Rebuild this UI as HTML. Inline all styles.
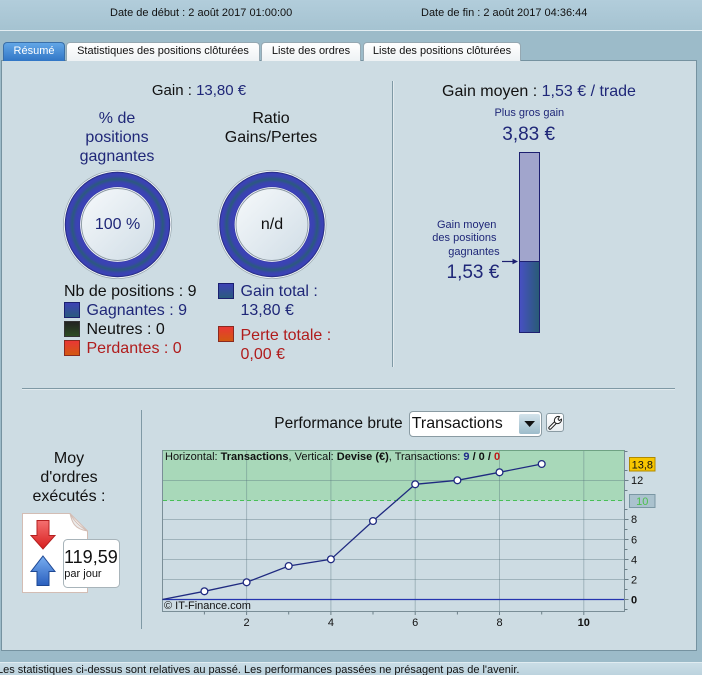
<!DOCTYPE html>
<html><head><meta charset="utf-8">
<style>
*{margin:0;padding:0;box-sizing:border-box}
html,body{width:702px;height:675px;overflow:hidden}
body{position:relative;background:#9cbbc9;font-family:"Liberation Sans",Arial,sans-serif;color:#111}
.a{position:absolute;white-space:nowrap}
.n{color:#1f2778}
.r{color:#b01c1c}
.tab{position:absolute;top:42px;height:19px;border:1px solid #95a8b2;border-bottom:none;border-radius:4px 4px 0 0;background:linear-gradient(#ffffff,#eef2f4);font-size:11px;line-height:17px;text-align:center;color:#111}
</style></head><body>

<!-- header -->
<div class="a" style="left:0;top:0;width:702px;height:30px;background:linear-gradient(#b2cddb,#a5c3d1)"></div>
<div class="a" style="left:0;top:30px;width:702px;height:1px;background:#e2edf2"></div>
<div class="a" style="left:110px;top:6px;font-size:11px;line-height:14px">Date de début : 2 août 2017 01:00:00</div>
<div class="a" style="left:421px;top:6px;font-size:11px;line-height:14px">Date de fin : 2 août 2017 04:36:44</div>

<!-- panel -->
<div class="a" style="left:1px;top:60px;width:696px;height:591px;background:#cddce3;border:1px solid #7592a0"></div>

<!-- tabs -->
<div class="tab" style="left:3px;width:62px;background:linear-gradient(#62a6e6,#3176c6);border-color:#3a6fa8;color:#fff">Résumé</div>
<div class="tab" style="left:66px;width:194px">Statistiques des positions clôturées</div>
<div class="tab" style="left:261px;width:100px">Liste des ordres</div>
<div class="tab" style="left:363px;width:158px">Liste des positions clôturées</div>

<!-- footer -->
<div class="a" style="left:0;top:662px;width:702px;height:1px;background:#e0ecf1"></div>
<div class="a" style="left:0;top:663px;width:702px;height:12px;background:linear-gradient(#cadde6,#bcd3de)"></div>
<div class="a" style="left:-3px;top:663px;font-size:11px;line-height:14px">Les statistiques ci-dessus sont relatives au passé. Les performances passées ne présagent pas de l'avenir.</div>

<svg class="a" style="left:0;top:0" width="702" height="675" viewBox="0 0 702 675">
<defs>
<radialGradient id="ring" cx="0.5" cy="0.5" r="0.5">
<stop offset="0.69" stop-color="#2a2e8a"/>
<stop offset="0.73" stop-color="#3c42b8"/>
<stop offset="0.80" stop-color="#3944ae"/>
<stop offset="0.86" stop-color="#2b5a7e"/>
<stop offset="0.92" stop-color="#3944ae"/>
<stop offset="0.97" stop-color="#3c42b8"/>
<stop offset="1" stop-color="#1e2470"/>
</radialGradient>
<linearGradient id="inner" x1="0" y1="0" x2="1" y2="1">
<stop offset="0" stop-color="#f6f9fb"/><stop offset="1" stop-color="#d0dde6"/>
</linearGradient>
<linearGradient id="bsq" x1="0" y1="0" x2="0" y2="1">
<stop offset="0" stop-color="#3d40b6"/><stop offset="1" stop-color="#2a5c7c"/>
</linearGradient>
<linearGradient id="ksq" x1="0" y1="0" x2="0" y2="1">
<stop offset="0" stop-color="#222"/><stop offset="1" stop-color="#2d4d22"/>
</linearGradient>
<linearGradient id="rsq" x1="0" y1="0" x2="0" y2="1">
<stop offset="0" stop-color="#ea3636"/><stop offset="1" stop-color="#d25a10"/>
</linearGradient>
<linearGradient id="barg" x1="0" y1="0" x2="1" y2="0">
<stop offset="0" stop-color="#4850c4"/><stop offset="1" stop-color="#285c74"/>
</linearGradient>
<linearGradient id="redA" x1="0" y1="0" x2="0" y2="1">
<stop offset="0" stop-color="#f47070"/><stop offset="1" stop-color="#d81e1e"/>
</linearGradient>
<linearGradient id="bluA" x1="0" y1="0" x2="0" y2="1">
<stop offset="0" stop-color="#78aef0"/><stop offset="1" stop-color="#2a5fbe"/>
</linearGradient>
</defs>

<!-- separators -->
<line x1="392.5" y1="81" x2="392.5" y2="367" stroke="#7f99a5"/>
<line x1="393.5" y1="81" x2="393.5" y2="367" stroke="#e2ebef"/>
<line x1="22" y1="388.5" x2="675" y2="388.5" stroke="#7f99a5"/>
<line x1="22" y1="389.5" x2="675" y2="389.5" stroke="#e2ebef"/>
<line x1="141.5" y1="410" x2="141.5" y2="629" stroke="#7f99a5"/>

<!-- donut 1 -->
<g transform="translate(117.5,224.5)">
<circle r="54" fill="none" stroke="#97a6ae" stroke-width="0.8"/>
<circle r="53.2" fill="none" stroke="#f2f6f8" stroke-width="1"/>
<circle r="52.7" fill="url(#ring)"/>
<circle r="37.4" fill="#f4f7f9"/>
<circle r="36" fill="url(#inner)" stroke="#8896a0" stroke-width="0.9"/>
</g>
<!-- donut 2 -->
<g transform="translate(272,224.5)">
<circle r="54" fill="none" stroke="#97a6ae" stroke-width="0.8"/>
<circle r="53.2" fill="none" stroke="#f2f6f8" stroke-width="1"/>
<circle r="52.7" fill="url(#ring)"/>
<circle r="37.4" fill="#f4f7f9"/>
<circle r="36" fill="url(#inner)" stroke="#8896a0" stroke-width="0.9"/>
</g>

<!-- legend squares -->
<rect x="64.5" y="302.5" width="15" height="15" fill="url(#bsq)" stroke="#1b2070"/>
<rect x="64.5" y="321.5" width="15" height="15" fill="url(#ksq)" stroke="#333"/>
<rect x="64.5" y="340.5" width="15" height="15" fill="url(#rsq)" stroke="#8a2a20"/>
<rect x="218.5" y="283.5" width="15" height="15" fill="url(#bsq)" stroke="#1b2070"/>
<rect x="218.5" y="326.5" width="15" height="15" fill="url(#rsq)" stroke="#8a2a20"/>

<!-- bar -->
<rect x="519.5" y="152.5" width="20" height="109" fill="#a1a5cc" stroke="#1d2070"/>
<rect x="519.5" y="261.5" width="20" height="71" fill="url(#barg)" stroke="#1d2070"/>
<line x1="502" y1="261.5" x2="514" y2="261.5" stroke="#1d2070" stroke-width="1.2"/>
<polygon points="518,261.5 512.5,258.8 512.5,264.2" fill="#1d2070"/>

<!-- document icon -->
<path d="M22.5 513.5 H70 L87.5 531 V592.5 H22.5 Z" fill="#fff" stroke="#d3bdb4"/>
<path d="M70 513.5 C72 522 74 529 87.5 531 C79 526 74 521 70 513.5 Z" fill="#ececec" stroke="#d3bdb4"/>
<polygon points="37,520.5 49,520.5 49,535.5 55,535.5 43,549 31,535.5 37,535.5" fill="url(#redA)" stroke="#b42020"/>
<polygon points="43,556 55,571.5 49,571.5 49,585.5 37,585.5 37,571.5 31,571.5" fill="url(#bluA)" stroke="#1e4894"/>
<rect x="63.5" y="539.5" width="56" height="48" rx="4" fill="#fff" stroke="#a8b4ba"/>

<!-- chart -->
<rect x="162.5" y="450.5" width="462" height="161" fill="#cddce3"/>
<rect x="162.5" y="450.5" width="462" height="50" fill="#a8d8b9"/>
<g stroke="#55707c" stroke-opacity="0.38" stroke-width="1">
<line x1="246.6" y1="451" x2="246.6" y2="611"/>
<line x1="330.9" y1="451" x2="330.9" y2="611"/>
<line x1="415.2" y1="451" x2="415.2" y2="611"/>
<line x1="499.5" y1="451" x2="499.5" y2="611"/>
<line x1="583.8" y1="451" x2="583.8" y2="611"/>
<line x1="163" y1="579.5" x2="624" y2="579.5"/>
<line x1="163" y1="559.5" x2="624" y2="559.5"/>
<line x1="163" y1="539.5" x2="624" y2="539.5"/>
<line x1="163" y1="519.5" x2="624" y2="519.5"/>
<line x1="163" y1="480.5" x2="624" y2="480.5"/>
</g>
<line x1="163" y1="500.5" x2="624" y2="500.5" stroke="#48bf57" stroke-dasharray="4,3"/>
<line x1="162.5" y1="599.5" x2="624.5" y2="599.5" stroke="#2434b0" stroke-width="1.3"/>
<line x1="162.5" y1="450.5" x2="624.5" y2="450.5" stroke="#6fa283"/>
<line x1="162.5" y1="450" x2="162.5" y2="611.5" stroke="#7a8e97"/>
<line x1="162" y1="611.5" x2="625" y2="611.5" stroke="#7a8e97"/>
<line x1="624.5" y1="450" x2="624.5" y2="611.5" stroke="#7a8e97"/>
<!-- right ticks -->
<g stroke="#6b7f88">
<line x1="624.5" y1="609.5" x2="627.5" y2="609.5"/>
<line x1="624.5" y1="599.5" x2="628.5" y2="599.5"/>
<line x1="624.5" y1="589.5" x2="627.5" y2="589.5"/>
<line x1="624.5" y1="579.5" x2="628.5" y2="579.5"/>
<line x1="624.5" y1="569.5" x2="627.5" y2="569.5"/>
<line x1="624.5" y1="559.5" x2="628.5" y2="559.5"/>
<line x1="624.5" y1="549.5" x2="627.5" y2="549.5"/>
<line x1="624.5" y1="539.5" x2="628.5" y2="539.5"/>
<line x1="624.5" y1="529.5" x2="627.5" y2="529.5"/>
<line x1="624.5" y1="519.5" x2="628.5" y2="519.5"/>
<line x1="624.5" y1="509.5" x2="627.5" y2="509.5"/>
<line x1="624.5" y1="490.5" x2="627.5" y2="490.5"/>
<line x1="624.5" y1="480.5" x2="628.5" y2="480.5"/>
<line x1="624.5" y1="470.5" x2="627.5" y2="470.5"/>
<line x1="624.5" y1="451.5" x2="627.5" y2="451.5"/>
</g>
<!-- bottom ticks -->
<g stroke="#6b7f88">
<line x1="204.4" y1="611.5" x2="204.4" y2="614.5"/>
<line x1="246.6" y1="611.5" x2="246.6" y2="615"/>
<line x1="288.7" y1="611.5" x2="288.7" y2="614.5"/>
<line x1="330.9" y1="611.5" x2="330.9" y2="615"/>
<line x1="373" y1="611.5" x2="373" y2="614.5"/>
<line x1="415.2" y1="611.5" x2="415.2" y2="615"/>
<line x1="457.4" y1="611.5" x2="457.4" y2="614.5"/>
<line x1="499.5" y1="611.5" x2="499.5" y2="615"/>
<line x1="541.7" y1="611.5" x2="541.7" y2="614.5"/>
<line x1="583.8" y1="611.5" x2="583.8" y2="615"/>
</g>
<g font-family="Liberation Sans, Arial, sans-serif" font-size="11" fill="#111">
<text x="631" y="603.5" font-weight="bold">0</text>
<text x="631" y="583.5">2</text>
<text x="631" y="563.5">4</text>
<text x="631" y="543.5">6</text>
<text x="631" y="523">8</text>
<text x="631" y="484">12</text>
<text x="246.6" y="626" text-anchor="middle">2</text>
<text x="330.9" y="626" text-anchor="middle">4</text>
<text x="415.2" y="626" text-anchor="middle">6</text>
<text x="499.5" y="626" text-anchor="middle">8</text>
<text x="583.8" y="626" text-anchor="middle" font-weight="bold">10</text>
<text x="165" y="460">Horizontal: <tspan font-weight="bold">Transactions</tspan>, Vertical: <tspan font-weight="bold">Devise (€)</tspan>, Transactions: <tspan font-weight="bold" fill="#1f2a8a">9</tspan> <tspan font-weight="bold">/ 0 /</tspan> <tspan font-weight="bold" fill="#c01818">0</tspan></text>
<text x="164" y="609">© IT-Finance.com</text>
</g>
<polyline points="162.3,599.5 204.4,591.3 246.6,582.3 288.7,566 330.9,559.3 373,521 415.2,484.3 457.4,480.3 499.5,472.3 541.7,464" fill="none" stroke="#1f2a80" stroke-width="1.3"/>
<g fill="#fff" stroke="#1f2a80" stroke-width="1.3">
<circle cx="204.4" cy="591.3" r="3.4"/>
<circle cx="246.6" cy="582.3" r="3.4"/>
<circle cx="288.7" cy="566" r="3.4"/>
<circle cx="330.9" cy="559.3" r="3.4"/>
<circle cx="373" cy="521" r="3.4"/>
<circle cx="415.2" cy="484.3" r="3.4"/>
<circle cx="457.4" cy="480.3" r="3.4"/>
<circle cx="499.5" cy="472.3" r="3.4"/>
<circle cx="541.7" cy="464" r="3.4"/>
</g>
<rect x="629.5" y="457.5" width="25.5" height="13.5" fill="#f7c600" stroke="#b08a00"/>
<text x="642.3" y="468.3" text-anchor="middle" font-family="Liberation Sans, Arial, sans-serif" font-size="11" fill="#111">13,8</text>
<rect x="629.5" y="494.5" width="25.5" height="13" fill="#aac2ce" stroke="#7a97a4"/>
<text x="642.3" y="505" text-anchor="middle" font-family="Liberation Sans, Arial, sans-serif" font-size="11" fill="#4cc04c">10</text>
</svg>

<!-- top-left texts -->
<div class="a" style="left:99px;top:82px;width:200px;text-align:center;font-size:15px;line-height:18px">Gain : <span class="n">13,80 €</span></div>
<div class="a n" style="left:57px;top:108.5px;width:120px;text-align:center;font-size:16px;line-height:19px;white-space:normal">% de<br>positions<br>gagnantes</div>
<div class="a" style="left:211px;top:108.5px;width:120px;text-align:center;font-size:16px;line-height:19px;white-space:normal">Ratio<br>Gains/Pertes</div>
<div class="a n" style="left:77.5px;top:215px;width:80px;text-align:center;font-size:16px;line-height:19px">100 %</div>
<div class="a" style="left:232px;top:215px;width:80px;text-align:center;font-size:16px;line-height:19px">n/d</div>

<div class="a" style="left:64px;top:282px;font-size:16px;line-height:19px">Nb de positions : 9</div>
<div class="a n" style="left:86.5px;top:300.5px;font-size:16px;line-height:19px">Gagnantes : 9</div>
<div class="a" style="left:86.5px;top:319.5px;font-size:16px;line-height:19px">Neutres : 0</div>
<div class="a r" style="left:86.5px;top:338.5px;font-size:16px;line-height:19px">Perdantes : 0</div>
<div class="a n" style="left:240.5px;top:282px;font-size:16px;line-height:19px">Gain total :</div>
<div class="a n" style="left:240.5px;top:300.5px;font-size:16px;line-height:19px">13,80 €</div>
<div class="a r" style="left:240.5px;top:325.5px;font-size:16px;line-height:19px">Perte totale :</div>
<div class="a r" style="left:240.5px;top:344.5px;font-size:16px;line-height:19px">0,00 €</div>

<!-- right texts -->
<div class="a" style="left:439px;top:81.5px;width:200px;text-align:center;font-size:16px;line-height:19px">Gain moyen : <span class="n">1,53 € / trade</span></div>
<div class="a n" style="left:479.3px;top:106.3px;width:100px;text-align:center;font-size:11px;line-height:14px">Plus gros gain</div>
<div class="a n" style="left:478.7px;top:123px;width:100px;text-align:center;font-size:19px;line-height:23px">3,83 €</div>
<div class="a n" style="left:437px;top:218.3px;font-size:11px;line-height:14px">Gain moyen</div>
<div class="a n" style="left:432.3px;top:231.3px;font-size:11px;line-height:14px">des positions</div>
<div class="a n" style="left:448.3px;top:244.7px;font-size:11px;line-height:14px">gagnantes</div>
<div class="a n" style="left:446.5px;top:261.2px;font-size:19px;line-height:23px">1,53 €</div>

<!-- bottom-left -->
<div class="a" style="left:9px;top:448.8px;width:120px;text-align:center;font-size:16px;line-height:19px;white-space:normal">Moy<br>d'ordres<br>exécutés :</div>
<div class="a" style="left:64px;top:545.7px;font-size:18px;line-height:22px">119,59</div>
<div class="a" style="left:64.3px;top:567px;font-size:11px;line-height:14px">par jour</div>

<!-- performance brute controls -->
<div class="a" style="left:274.3px;top:414px;font-size:15.5px;line-height:19px">Performance brute</div>
<div class="a" style="left:408.5px;top:410.5px;width:133.5px;height:26px;background:#fff;border:1px solid #8a9ba3;border-radius:4px"></div>
<div class="a" style="left:411.7px;top:413.8px;font-size:16px;line-height:19px">Transactions</div>
<div class="a" style="left:519px;top:414px;width:21px;height:20px;background:linear-gradient(#d3e3eb,#9dbccb);border-radius:2px"></div>
<svg class="a" style="left:0;top:0;pointer-events:none" width="702" height="675" viewBox="0 0 702 675">
<polygon points="524.3,421 535,421 529.65,427" fill="#111"/>
</svg>
<div class="a" style="left:545.5px;top:413.3px;width:18.5px;height:18.5px;background:linear-gradient(#ffffff,#e8eef1);border:1px solid #8a9ba3;border-radius:3px"></div>
<svg class="a" style="left:545.5px;top:413.3px" width="19" height="19" viewBox="0 0 19 19">
<path d="M4 15 L10 9" stroke="#222" stroke-width="3.4" stroke-linecap="round"/>
<path d="M4 15 L10 9" stroke="#fff" stroke-width="1.4" stroke-linecap="round"/>
<path d="M9.2 9.8 A4 4 0 0 1 13.5 3.6 L12 6 L13.2 7.6 L15.5 6.2 A4 4 0 0 1 9.2 9.8 Z" fill="#fff" stroke="#222" stroke-width="1"/>
</svg>

</body></html>
